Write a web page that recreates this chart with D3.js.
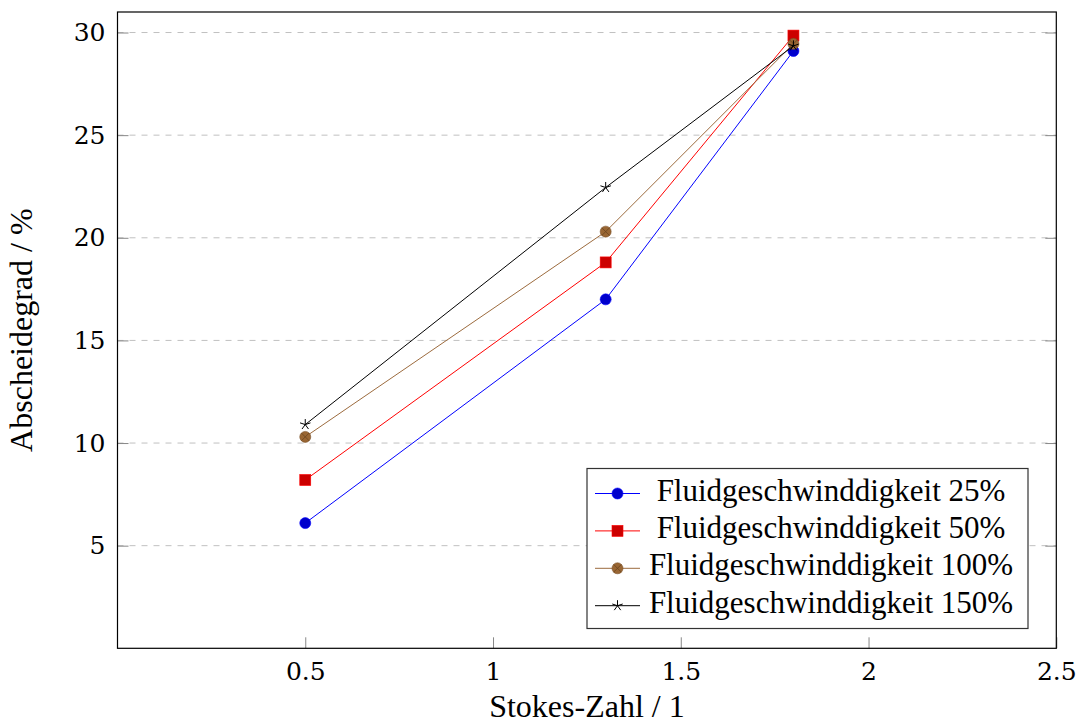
<!DOCTYPE html>
<html>
<head>
<meta charset="utf-8">
<script src="https://cdn.jsdelivr.net/npm/d3@7"></script>
<style>
  body { margin: 0; background: #fff; }
  text { font-family: "Liberation Serif", "DejaVu Serif", serif; fill: #000; }
</style>
</head>
<body>
<div id="chart"></div>
<script>
// data
var stokes = [0.5, 1.3, 1.8];
var v25 = [6.1, 17.0, 29.1];
var v50 = [8.2, 18.8, 29.85];
var v100 = [10.3, 20.3, 29.45];
var v150 = [10.9, 22.45, 29.35];
var seriesNames = ["Fluidgeschwinddigkeit 25%", "Fluidgeschwinddigkeit 50%",
                   "Fluidgeschwinddigkeit 100%", "Fluidgeschwinddigkeit 150%"];
var xTicks = [0.5, 1, 1.5, 2, 2.5];
var xTickLabels = ["0.5", "1", "1.5", "2", "2.5"];
var yTicks = [5, 10, 15, 20, 25, 30];
var yTickLabels = ["5", "10", "15", "20", "25", "30"];
var xLabel = "Stokes-Zahl / 1";
var yLabel = "Abscheidegrad / %";

var series = [
  {name: seriesNames[0], values: v25, line: "#0000ff", fill: "#0000cc", mark: "circle"},
  {name: seriesNames[1], values: v50, line: "#ff0000", fill: "#cc0000", mark: "square"},
  {name: seriesNames[2], values: v100, line: "#9c6b3e", fill: "#996633", mark: "otimes"},
  {name: seriesNames[3], values: v150, line: "#000000", fill: "#000000", mark: "star"}
];

var W = 1077, H = 724;
var pLeft = 117.5, pRight = 1056.3, pTop = 12, pBottom = 648.3;

var svg = d3.select("#chart").append("svg")
  .attr("width", W).attr("height", H);

var x = d3.scaleLinear().domain([0, 2.5]).range([pLeft, pRight]);
var y = d3.scaleLinear().domain([0, 31]).range([pBottom, pTop]);

// grid
svg.append("g").selectAll("line").data(yTicks).enter().append("line")
  .attr("x1", pLeft).attr("x2", pRight)
  .attr("y1", d => y(d)).attr("y2", d => y(d))
  .attr("stroke", "#c0c0c0").attr("stroke-width", 1)
  .attr("stroke-dasharray", "6,6");

// axes with inner ticks
var xAxis = svg.append("g").attr("transform", "translate(0," + pBottom + ")")
  .call(d3.axisBottom(x).tickValues(xTicks).tickSize(-11).tickPadding(14)
    .tickFormat((d, i) => xTickLabels[i]));
var yAxis = svg.append("g").attr("transform", "translate(" + pLeft + ",0)")
  .call(d3.axisLeft(y).tickValues(yTicks).tickSize(-11).tickPadding(12)
    .tickFormat((d, i) => yTickLabels[i]));
var yAxisR = svg.append("g").attr("transform", "translate(" + pRight + ",0)")
  .call(d3.axisRight(y).tickValues(yTicks).tickSize(-11).tickFormat(""));

[xAxis, yAxis, yAxisR].forEach(function(g) {
  g.select(".domain").remove();
  g.selectAll(".tick line").attr("stroke", "#888");
  g.selectAll(".tick text").style("font-family", "'DejaVu Serif', serif")
    .style("font-size", "25px").attr("fill", "#000");
});
xAxis.selectAll(".tick text").attr("dy", "0.71em");

// frame
svg.append("rect").attr("x", pLeft).attr("y", pTop)
  .attr("width", pRight - pLeft).attr("height", pBottom - pTop)
  .attr("fill", "none").attr("stroke", "#000").attr("stroke-width", 1.2);

function drawMark(g, type, cx, cy, s) {
  if (type == "circle") {
    g.append("circle").attr("cx", cx).attr("cy", cy).attr("r", 5.5)
      .attr("fill", s.fill).attr("stroke", s.line).attr("stroke-width", 0.6);
  } else if (type == "square") {
    g.append("rect").attr("x", cx - 5.5).attr("y", cy - 5.5)
      .attr("width", 11).attr("height", 11)
      .attr("fill", s.fill).attr("stroke", s.line).attr("stroke-width", 0.6);
  } else if (type == "otimes") {
    g.append("circle").attr("cx", cx).attr("cy", cy).attr("r", 5.5)
      .attr("fill", s.fill).attr("stroke", "#7a5028").attr("stroke-width", 0.6);
    var r = 3.9;
    g.append("path")
      .attr("d", "M" + (cx - r) + "," + (cy - r) + "L" + (cx + r) + "," + (cy + r) +
                 "M" + (cx - r) + "," + (cy + r) + "L" + (cx + r) + "," + (cy - r))
      .attr("stroke", "#6b4520").attr("stroke-width", 0.8);
  } else if (type == "star") {
    var p = "";
    for (var k = 0; k < 5; k++) {
      var a = -Math.PI / 2 + k * 2 * Math.PI / 5;
      p += "M" + cx + "," + cy + "L" + (cx + 5.5 * Math.cos(a)) + "," + (cy + 5.5 * Math.sin(a));
    }
    g.append("path").attr("d", p).attr("stroke", "#000").attr("stroke-width", 1);
  }
}

// lines and marks
var line = d3.line().x((d, i) => x(stokes[i])).y(d => y(d));
series.forEach(function(s) {
  var g = svg.append("g");
  g.append("path").datum(s.values).attr("d", line)
    .attr("fill", "none").attr("stroke", s.line).attr("stroke-width", 1);
  s.values.forEach(function(v, i) {
    drawMark(g, s.mark, x(stokes[i]), y(v), s);
  });
});

// axis labels
svg.append("text").attr("x", (pLeft + pRight) / 2).attr("y", 717)
  .attr("text-anchor", "middle").style("font-size", "32px").text(xLabel);
svg.append("text").attr("transform", "translate(32," + ((pTop + pBottom) / 2) + ") rotate(-90)")
  .attr("text-anchor", "middle").style("font-size", "32px").text(yLabel);

// legend
var lg = svg.append("g");
var lx0 = 587, ly0 = 468.5, lw = 441, lh = 160;
lg.append("rect").attr("x", lx0).attr("y", ly0).attr("width", lw).attr("height", lh)
  .attr("fill", "#fff").attr("stroke", "#333").attr("stroke-width", 1.2);
series.forEach(function(s, i) {
  var cy = 493.5 + i * 37.4;
  lg.append("line").attr("x1", 595).attr("x2", 640).attr("y1", cy).attr("y2", cy)
    .attr("stroke", s.line).attr("stroke-width", 1);
  drawMark(lg, s.mark, 617.5, cy, s);
  lg.append("text").attr("x", 831).attr("y", cy + 7)
    .attr("text-anchor", "middle").style("font-size", "31px").text(s.name);
});
</script>
</body>
</html>
